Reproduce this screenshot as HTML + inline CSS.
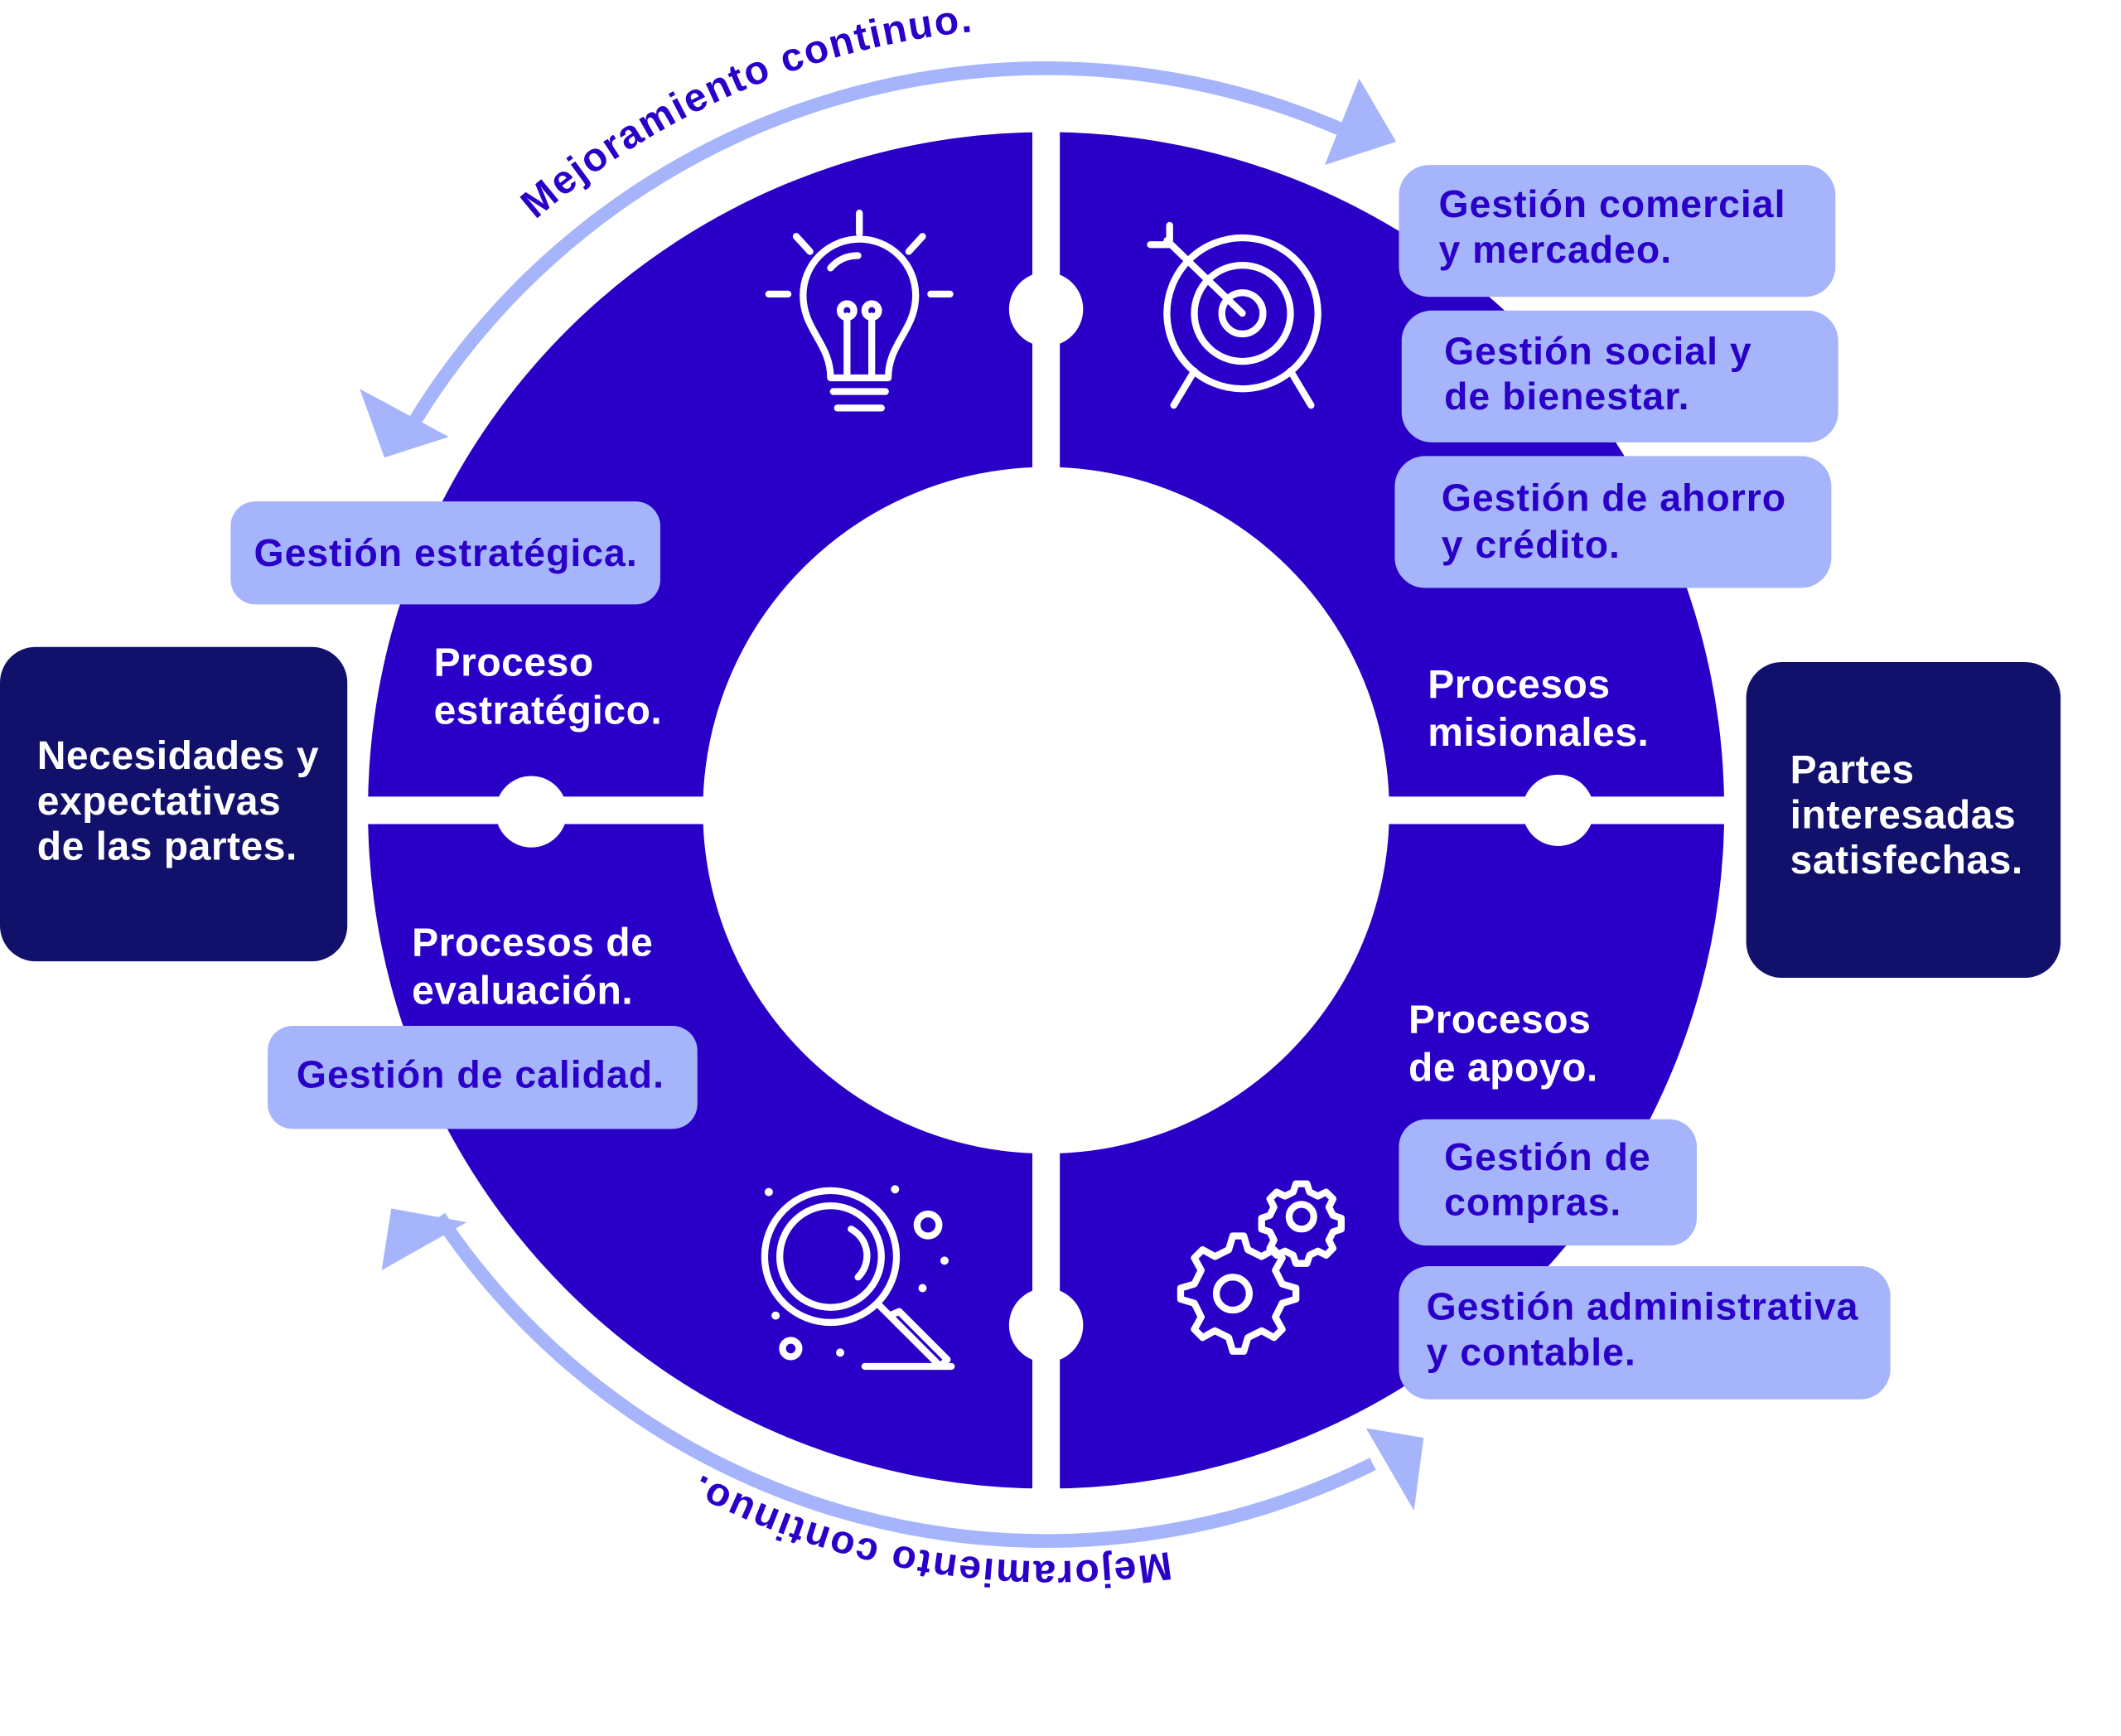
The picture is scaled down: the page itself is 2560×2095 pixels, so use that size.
<!DOCTYPE html>
<html><head><meta charset="utf-8"><style>
html,body{margin:0;padding:0;background:#fff;}
svg{display:block;}
text{font-family:"Liberation Sans",sans-serif;font-weight:bold;}
</style></head><body>
<svg width="2560" height="2095" viewBox="0 0 1545 1264" xmlns="http://www.w3.org/2000/svg">
<rect width="1545" height="1264" fill="#fff"/>
<!-- ring -->
<path d="M762,96 a494,494 0 1,0 0.01,0 Z M762,340 a250,250 0 1,1 -0.01,0 Z" fill="#2a00c8" fill-rule="evenodd"/>
<rect x="752" y="80" width="20" height="1020" fill="#fff"/>
<rect x="250" y="580" width="1030" height="20" fill="#fff"/>
<circle cx="762" cy="225" r="27" fill="#fff"/>
<circle cx="387" cy="591" r="26" fill="#fff"/>
<circle cx="1135" cy="590" r="26" fill="#fff"/>
<circle cx="762" cy="965" r="27" fill="#fff"/>

<!-- arrows -->
<g fill="none" stroke="#a6b5fb" stroke-width="10">
<path d="M300,310 A540,540 0 0 1 990,100"/>
<path d="M320,886 A532,532 0 0 0 1000,1066"/>
</g>
<g fill="#a6b5fb">
<polygon points="1017,103 990,57 965,120"/>
<polygon points="280,333 262,283 327,318"/>
<polygon points="1037,1047 995,1040 1030,1100"/>
<polygon points="285,880 340,890 278,925"/>
</g>
<defs>
<path id="tp" d="M390,160 A572,572 0 0 1 860,28"/>
<path id="bp" d="M852,1130 A547,547 0 0 1 470,1050"/>
</defs>
<text font-size="29" letter-spacing="1.2" fill="#2a00c8"><textPath href="#tp">Mejoramiento continuo.</textPath></text>
<text font-size="29" letter-spacing="1.2" fill="#2a00c8"><textPath href="#bp">Mejoramiento continuo.</textPath></text>

<!-- boxes -->
<g fill="#a6b5fb">
<rect x="1019" y="120" width="318" height="96" rx="22"/>
<rect x="1021" y="226" width="318" height="96" rx="22"/>
<rect x="1016" y="332" width="318" height="96" rx="22"/>
<rect x="168" y="365" width="313" height="75" rx="18"/>
<rect x="195" y="747" width="313" height="75" rx="18"/>
<rect x="1019" y="815" width="217" height="92" rx="20"/>
<rect x="1019" y="922" width="358" height="97" rx="22"/>
</g>
<g fill="#11116b">
<rect x="0" y="471" width="253" height="229" rx="26"/>
<rect x="1272" y="482" width="229" height="230" rx="26"/>
</g>
<g font-size="28" letter-spacing="0.6" fill="#2a00c8">
<text x="1048" y="158">Gestión comercial</text><text x="1048" y="191">y mercadeo.</text>
<text x="1052" y="265">Gestión social y</text><text x="1052" y="298">de bienestar.</text>
<text x="1050" y="372">Gestión de ahorro</text><text x="1050" y="406">y crédito.</text>
<text x="185" y="412">Gestión estratégica.</text>
<text x="216" y="792">Gestión de calidad.</text>
<text x="1052" y="852">Gestión de</text><text x="1052" y="885">compras.</text>
<text x="1039" y="961">Gestión administrativa</text><text x="1039" y="994">y contable.</text>
</g>
<g font-size="29" letter-spacing="0.3" fill="#fff">
<text x="27" y="560">Necesidades y</text><text x="27" y="593">expectativas</text><text x="27" y="626">de las partes.</text>
<text x="1304" y="570">Partes</text><text x="1304" y="603">interesadas</text><text x="1304" y="636">satisfechas.</text>
<text x="316" y="492">Proceso</text><text x="316" y="527">estratégico.</text>
<text x="1040" y="508">Procesos</text><text x="1040" y="543">misionales.</text>
<text x="300" y="696">Procesos de</text><text x="300" y="731">evaluación.</text>
<text x="1026" y="752">Procesos</text><text x="1026" y="787">de apoyo.</text>
</g>

<!-- icons -->
<g fill="none" stroke="#fff" stroke-width="5" stroke-linecap="round" stroke-linejoin="round">
<path d="M605,275 C605,250 585,240 585,215 A41,41 0 1 1 667,215 C667,240 647,250 647,275 Z"/>
<path d="M607,285 H645 M610,297 H642"/>
<path d="M617,275 V230 M635,275 V230"/>
<circle cx="617" cy="226" r="5"/><circle cx="635" cy="226" r="5"/>
<path d="M626,155 V170 M580,172 L590,183 M672,172 L662,183 M560,214 H574 M678,214 H692"/>
<path d="M605,195 A25,25 0 0 1 625,186"/>
<circle cx="905" cy="228" r="55"/>
<circle cx="905" cy="228" r="35"/>
<circle cx="905" cy="228" r="15"/>
<path d="M905,228 L850,175 M838,178 L852,178 L852,164 M870,270 L855,295 M940,270 L955,295"/>
<circle cx="605" cy="915" r="48"/>
<circle cx="605" cy="915" r="37"/>
<path d="M620,895 A22,22 0 0 1 625,930"/>
<path d="M640,950 L655,965 M648,958 L685,995 L690,990 L655,955 Z"/>
<path d="M630,995 H693"/>
<circle cx="676" cy="892" r="8"/><circle cx="576" cy="982" r="6"/>
<circle cx="898" cy="942" r="12"/>
<path d="M898,900 l8,0 l3,10 l10,5 l9,-5 l6,6 l-5,9 l5,10 l10,3 l0,8 l-10,3 l-5,10 l5,9 l-6,6 l-9,-5 l-10,5 l-3,10 l-8,0 l-3,-10 l-10,-5 l-9,5 l-6,-6 l5,-9 l-5,-10 l-10,-3 l0,-8 l10,-3 l5,-10 l-5,-9 l6,-6 l9,5 l10,-5 Z"/>
<circle cx="948" cy="886" r="9"/>
<path d="M944,862 h8 l2,6 l6,3 l6,-3 l5,5 l-3,6 l3,6 l6,2 v8 l-6,2 l-3,6 l3,6 l-5,5 l-6,-3 l-6,3 l-2,6 h-8 l-2,-6 l-6,-3 l-6,3 l-5,-5 l3,-6 l-3,-6 l-6,-2 v-8 l6,-2 l3,-6 l-3,-6 l5,-5 l6,3 l6,-3 Z"/>
</g>
<g fill="#fff">
<circle cx="560" cy="868" r="3"/><circle cx="652" cy="866" r="3"/><circle cx="688" cy="918" r="3"/><circle cx="672" cy="938" r="3"/><circle cx="612" cy="985" r="3"/><circle cx="565" cy="958" r="3"/>
</g>
</svg>
</body></html>
